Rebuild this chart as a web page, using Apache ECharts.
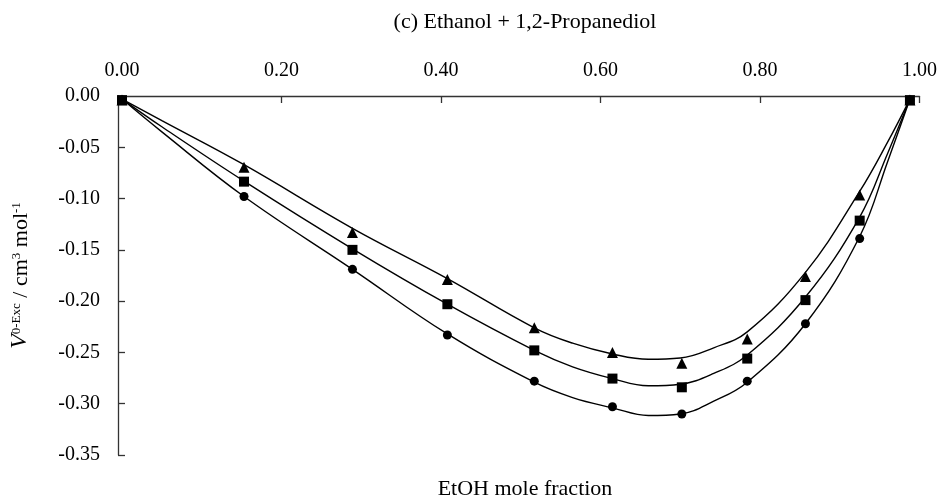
<!DOCTYPE html>
<html><head><meta charset="utf-8">
<script src="https://cdn.jsdelivr.net/npm/echarts@6/dist/echarts.min.js"></script>
<style>html,body{margin:0;padding:0;background:#fff}#c{width:940px;height:500px}</style>
</head><body><div id="c"></div>
<script>
// ---- data ----
const xTickValues = [0, 0.2, 0.4, 0.6, 0.8, 1.0];
const yMin = -0.35, yMax = 0, yStep = 0.05;

// measured points
const pointX = [0, 0.153, 0.289, 0.408, 0.517, 0.615, 0.702, 0.784, 0.857, 0.925, 0.988];
const triangleY = [-0.004, -0.0695, -0.133, -0.179, -0.226, -0.250, -0.2605, -0.237, -0.176, -0.0965, -0.004];
const squareY   = [-0.004, -0.0835, -0.150, -0.203, -0.248, -0.2755, -0.284, -0.256, -0.199, -0.1215, -0.004];
const circleY   = [-0.004, -0.098, -0.169, -0.233, -0.278, -0.303, -0.310, -0.278, -0.222, -0.139, -0.004];

// fitted curves
const curveX         = [0, 0.05, 0.153, 0.289, 0.408, 0.517, 0.565, 0.615, 0.66, 0.70, 0.742, 0.784, 0.857, 0.925, 0.96, 0.988];
const triangleCurveY = [-0.003, -0.024, -0.067, -0.129, -0.178, -0.226, -0.241, -0.2515, -0.2567, -0.2555, -0.2455, -0.230, -0.172, -0.093, -0.045, -0.003];
const squareCurveY   = [-0.003, -0.030, -0.083, -0.149, -0.203, -0.248, -0.264, -0.2755, -0.2825, -0.281, -0.2705, -0.2525, -0.196, -0.118, -0.056, -0.003];
const circleCurveY   = [-0.003, -0.035, -0.098, -0.169, -0.232, -0.279, -0.294, -0.304, -0.3115, -0.310, -0.2975, -0.279, -0.222, -0.137, -0.064, -0.003];

const titleText = '(c) Ethanol + 1,2-Propanediol';
const xAxisTitle = 'EtOH mole fraction';

// ---- chart ----
const FONT = '"Liberation Serif", "DejaVu Serif", serif';
const pairs = (xs, ys) => xs.map((x, i) => [x, ys[i]]);
const lineSeries = (ys) => ({
  type: 'line', data: pairs(curveX, ys), smooth: 0.4, showSymbol: false, symbol: 'none',
  lineStyle: { color: '#000', width: 1.4 }, silent: true, z: 2, clip: false
});
const markSeries = (ys, symbol, size) => ({
  type: 'scatter', data: pairs(pointX, ys), symbol: symbol, symbolSize: size,
  itemStyle: { color: '#000', opacity: 1 }, z: 3, clip: false
});

const chart = echarts.init(document.getElementById('c'), null, { renderer: 'canvas' });
chart.setOption({
  backgroundColor: '#fff',
  animation: false,
  title: [
    { text: titleText, left: 520, top: 6, textAlign: 'center',
      textStyle: { fontFamily: FONT, fontSize: 22, fontWeight: 'normal', color: '#000' } },
    { text: xAxisTitle, left: 520, top: 473, textAlign: 'center',
      textStyle: { fontFamily: FONT, fontSize: 22, fontWeight: 'normal', color: '#000' } }
  ],
  grid: { left: 117, right: 20, top: 96, bottom: 45, containLabel: false },
  xAxis: {
    type: 'value', position: 'top', min: -0.005, max: 1.0,
    axisLine: { show: true, lineStyle: { color: '#333', width: 1.3 } },
    axisTick: { show: true, inside: true, length: 7, lineStyle: { color: '#333', width: 1.3 },
      customValues: xTickValues.slice(1) },
    axisLabel: { customValues: xTickValues, formatter: v => v.toFixed(2), margin: 15,
      fontFamily: FONT, fontSize: 20, color: '#000' },
    splitLine: { show: false }
  },
  yAxis: {
    type: 'value', min: yMin, max: yMax, interval: yStep,
    axisLine: { show: true, onZero: false, lineStyle: { color: '#333', width: 1.3 } },
    axisTick: { show: true, inside: true, length: 7, lineStyle: { color: '#333', width: 1.3 } },
    axisLabel: { formatter: v => v.toFixed(2), margin: 18, fontFamily: FONT, fontSize: 20, color: '#000' },
    splitLine: { show: false },
    name: '{i|V}{s|0-Exc}{n| / cm}{s|3}{n| mol}{s|-1}',
    nameLocation: 'middle', nameRotate: 90, nameGap: 86,
    nameTextStyle: {
      fontFamily: FONT, color: '#000', fontSize: 22,
      rich: {
        i: { fontFamily: FONT, fontStyle: 'italic', fontSize: 24, color: '#000', verticalAlign: 'bottom', lineHeight: 25 },
        n: { fontFamily: FONT, fontSize: 22, color: '#000', verticalAlign: 'bottom', lineHeight: 25 },
        s: { fontFamily: FONT, fontSize: 13, color: '#000', verticalAlign: 'bottom', lineHeight: 13, padding: [0, 0, 9, 0] }
      }
    }
  },
  series: [
    lineSeries(triangleCurveY),
    lineSeries(squareCurveY),
    lineSeries(circleCurveY),
    markSeries(circleY, 'circle', 9),
    markSeries(triangleY, 'triangle', 11),
    markSeries(squareY, 'rect', 10)
  ]
});
</script>
</body></html>
